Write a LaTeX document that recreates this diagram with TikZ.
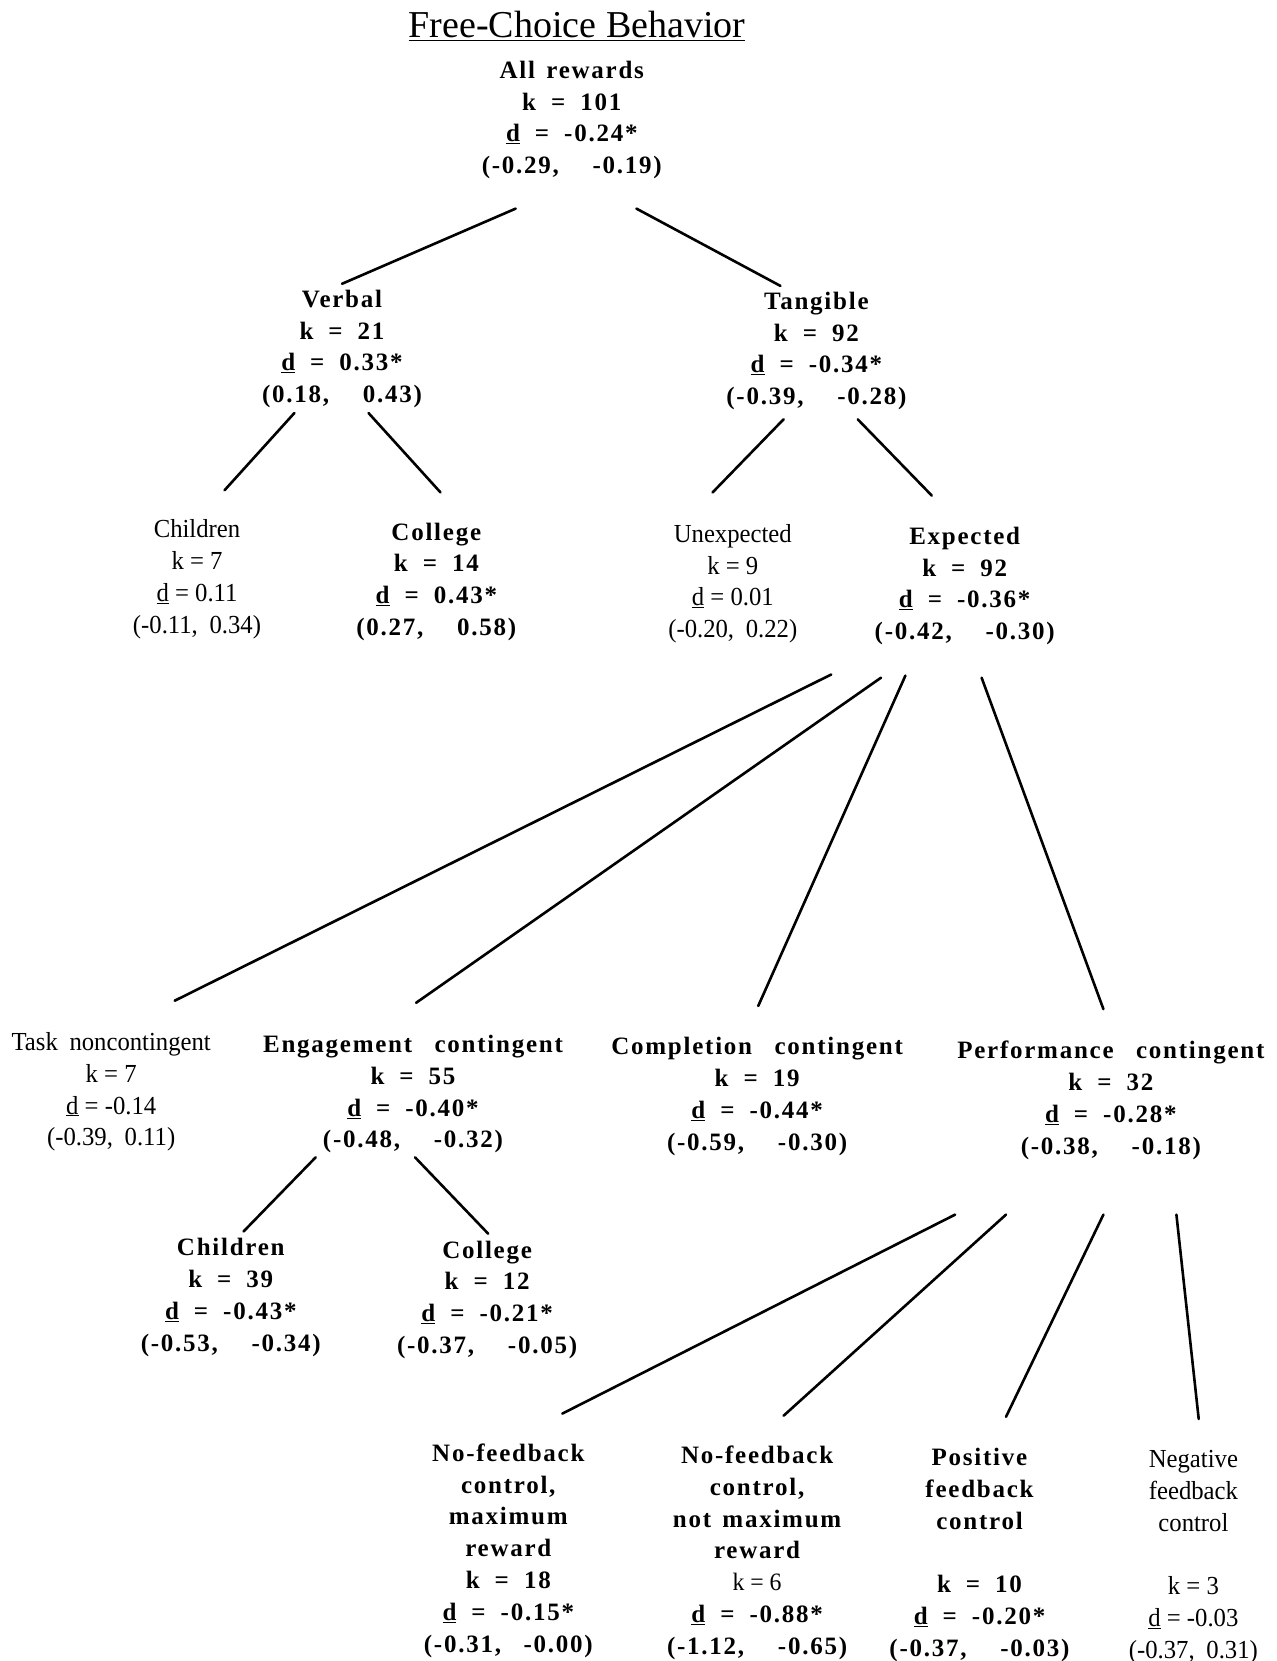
\documentclass[tikz,border=0pt]{standalone}
\usepackage{fontspec}
\setmainfont{Liberation Serif}
\newfontfamily\rgf[FakeStretch=0.95]{Liberation Serif}
\newfontfamily\bdf[LetterSpace=7]{Liberation Serif}
\usetikzlibrary{calc}
\newcommand\gp{\hspace{0.45em}}
\newcommand\gq{\hspace{0.6em}}
\begin{document}
\begin{tikzpicture}[x=1pt,y=-1pt,
  lbl/.style={anchor=base, align=center, inner sep=0pt},
  bd/.style={lbl, font=\fontsize{25}{31.8}\selectfont\bdf\bfseries},
  rg/.style={lbl, font=\fontsize{26}{31.8}\selectfont\rgf},
  conn/.style={line width=2.6pt, line cap=round}]
\fill[white] (0,0) rectangle (1276,1661);
\useasboundingbox (0,0) rectangle (1276,1661);

\node[lbl, font=\fontsize{38}{40}\selectfont] (title) at (577,38) {\underline{Free-Choice Behavior}};

\node[bd] (top) at (571.8,173.8) {All\gp rewards\\k\gq=\gq101\\\underline{d}\gq=\gq-0.24*\\(-0.29,\gp\gp\gp-0.19)};

\node[bd] (verbal) at (342,402.6) {Verbal\\k\gq=\gq21\\\underline{d}\gq=\gq0.33*\\(0.18,\gp\gp\gp0.43)};
\node[bd] (tangible) at (816.4,404.6) {Tangible\\k\gq=\gq92\\\underline{d}\gq=\gq-0.34*\\(-0.39,\gp\gp\gp-0.28)};

\node[rg] (child1) at (197,633.3) {Children\\k = 7\\\underline{d} = 0.11\\(-0.11,\gp0.34)};
\node[bd] (coll1) at (436.3,635.4) {College\\k\gq=\gq14\\\underline{d}\gq=\gq0.43*\\(0.27,\gp\gp\gp0.58)};
\node[rg] (unexp) at (732.8,637.6) {Unexpected\\k = 9\\\underline{d} = 0.01\\(-0.20,\gp0.22)};
\node[bd] (exp) at (964.7,639.7) {Expected\\k\gq=\gq92\\\underline{d}\gq=\gq-0.36*\\(-0.42,\gp\gp\gp-0.30)};

\node[rg] (task) at (111.2,1145.8) {Task\gp noncontingent\\k = 7\\\underline{d} = -0.14\\(-0.39,\gp0.11)};
\node[bd] (eng) at (413,1147.9) {Engagement\gp\gp contingent\\k\gq=\gq55\\\underline{d}\gq=\gq-0.40*\\(-0.48,\gp\gp\gp-0.32)};
\node[bd] (comp) at (757.1,1150.1) {Completion\gp\gp contingent\\k\gq=\gq19\\\underline{d}\gq=\gq-0.44*\\(-0.59,\gp\gp\gp-0.30)};
\node[bd] (perf) at (1110.8,1154.3) {Performance\gp\gp contingent\\k\gq=\gq32\\\underline{d}\gq=\gq-0.28*\\(-0.38,\gp\gp\gp-0.18)};

\node[bd] (child2) at (230.8,1351.3) {Children\\k\gq=\gq39\\\underline{d}\gq=\gq-0.43*\\(-0.53,\gp\gp\gp-0.34)};
\node[bd] (coll2) at (487.1,1353.4) {College\\k\gq=\gq12\\\underline{d}\gq=\gq-0.21*\\(-0.37,\gp\gp\gp-0.05)};

\node[bd] (nofb1) at (508.3,1652.1) {No-feedback\\control,\\maximum\\reward\\k\gq=\gq18\\\underline{d}\gq=\gq-0.15*\\(-0.31,\gp\gp-0.00)};
\node[bd] (nofb2) at (757.1,1654.2) {No-feedback\\control,\\not\gp maximum\\reward\\{\rgf\mdseries k = 6}\\\underline{d}\gq=\gq-0.88*\\(-1.12,\gp\gp\gp-0.65)};
\node[bd] (pos) at (979.5,1656.3) {Positive\\feedback\\control\\[31.8pt]k\gq=\gq10\\\underline{d}\gq=\gq-0.20*\\(-0.37,\gp\gp\gp-0.03)};
\node[rg] (neg) at (1193.4,1658.4) {Negative\\feedback\\control\\[31.8pt]k = 3\\\underline{d} = -0.03\\(-0.37,\gp0.31)};

\draw[conn] ($(top.base)+(-56.1,34.8)$) -- ($(verbal.base)+(0,-118.8)$);
\draw[conn] ($(top.base)+(64.6,34.8)$) -- ($(tangible.base)+(-36,-118.7)$);
\draw[conn] ($(verbal.base)+(-47.6,10.4)$) -- ($(child1.base)+(27.5,-143)$);
\draw[conn] ($(verbal.base)+(26.5,10.4)$) -- ($(coll1.base)+(4.2,-143)$);
\draw[conn] ($(tangible.base)+(-32.8,14.7)$) -- ($(unexp.base)+(-20.2,-145.2)$);
\draw[conn] ($(tangible.base)+(41.3,14.7)$) -- ($(exp.base)+(-32.9,-144.1)$);
\draw[conn] ($(exp.base)+(-133.5,34.8)$) -- ($(task.base)+(63.5,-145.1)$);
\draw[conn] ($(exp.base)+(-83.7,38)$) -- ($(eng.base)+(3.1,-145.1)$);
\draw[conn] ($(exp.base)+(-59.3,35.9)$) -- ($(comp.base)+(1.1,-144.1)$);
\draw[conn] ($(exp.base)+(16.9,38)$) -- ($(perf.base)+(-7.4,-145.2)$);
\draw[conn] ($(eng.base)+(-97.4,9.5)$) -- ($(child2.base)+(12.7,-119.8)$);
\draw[conn] ($(eng.base)+(2.1,9.5)$) -- ($(coll2.base)+(1,-119.8)$);
\draw[conn] ($(perf.base)+(-155.7,60.3)$) -- ($(nofb1.base)+(54,-238.5)$);
\draw[conn] ($(perf.base)+(-104.8,60.3)$) -- ($(nofb2.base)+(26.5,-238.5)$);
\draw[conn] ($(perf.base)+(-7.4,60.3)$) -- ($(pos.base)+(26.5,-239.5)$);
\draw[conn] ($(perf.base)+(65.6,60.3)$) -- ($(neg.base)+(5.3,-239.4)$);
\end{tikzpicture}
\end{document}
